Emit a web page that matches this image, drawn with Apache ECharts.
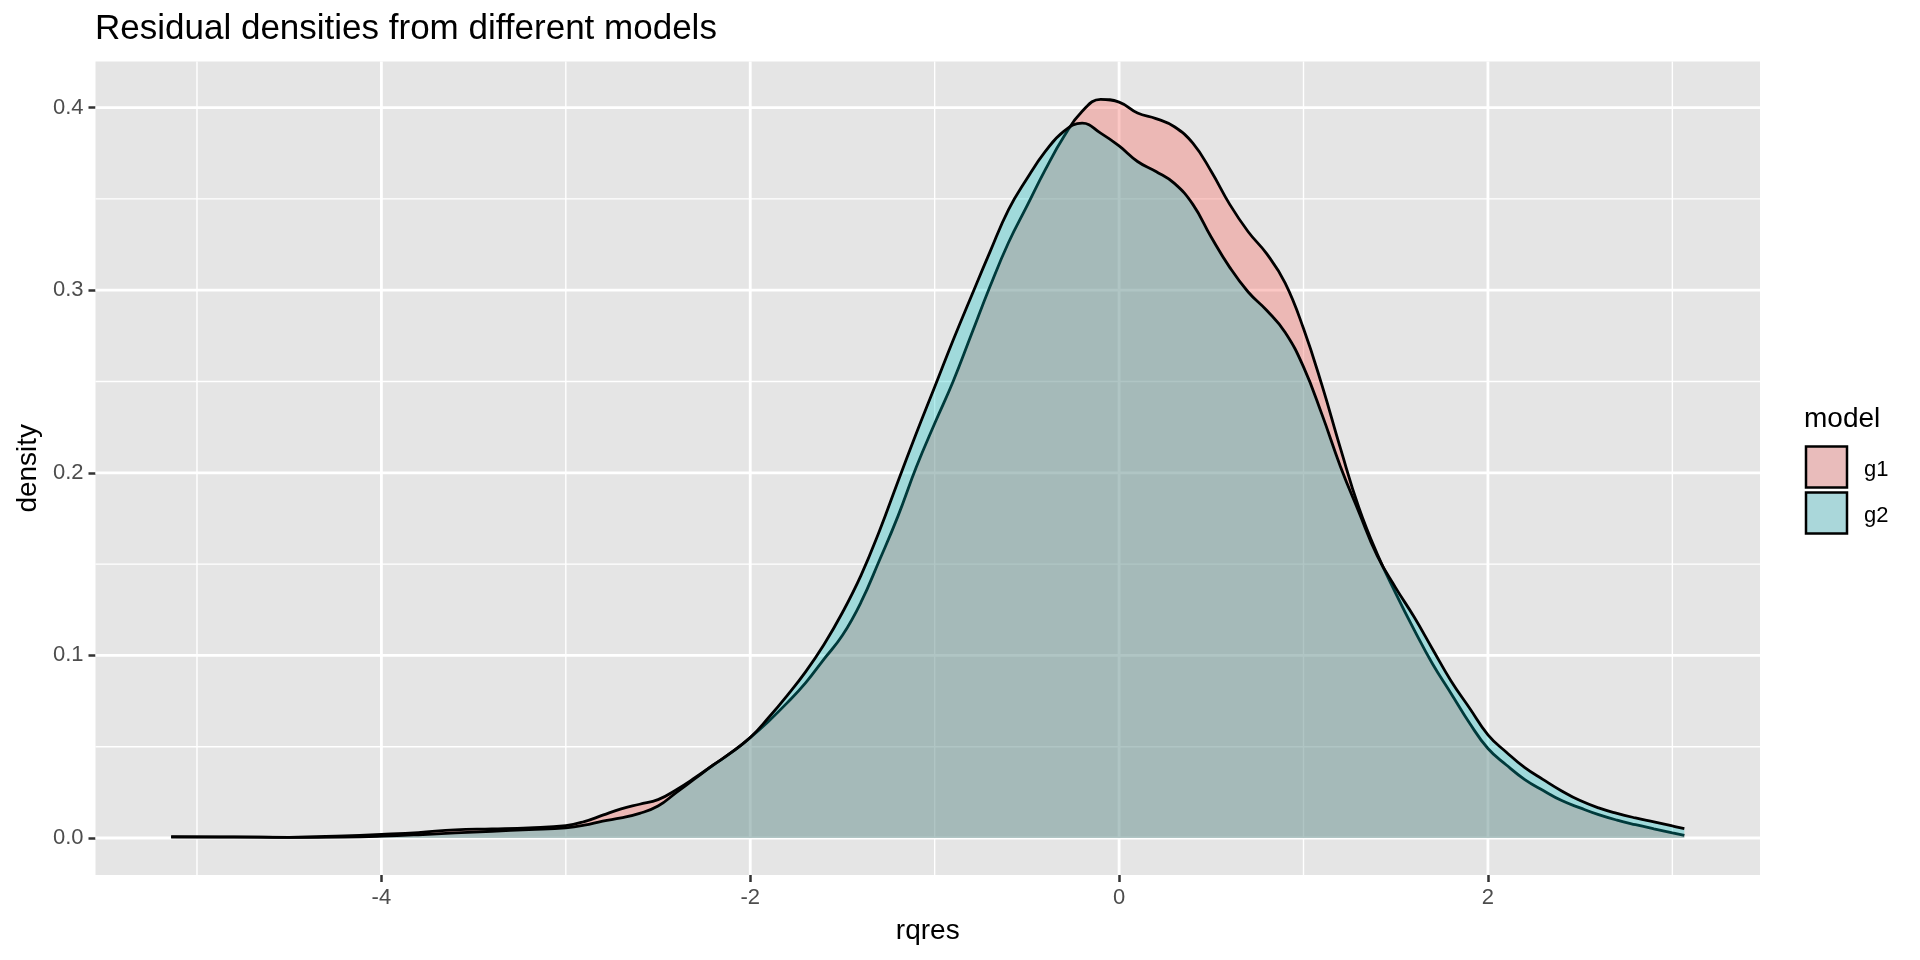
<!DOCTYPE html>
<html>
<head>
<meta charset="utf-8">
<script src="https://cdn.jsdelivr.net/npm/echarts@6/dist/echarts.min.js"></script>
<style>
html,body{margin:0;padding:0;background:#fff;}
#chart{width:1920px;height:960px;}
</style>
</head>
<body>
<div id="chart"></div>
<script>
// ---- data ----
const titleText = 'Residual densities from different models';
const xName = 'rqres';
const yName = 'density';
const legendTitle = 'model';
const seriesNames = ['g1', 'g2'];

const xGrid = [-5.14,-4.8,-4.5,-4.2,-4.0,-3.8,-3.6,-3.4,-3.2,-3.0,-2.9,-2.8,-2.7,-2.6,-2.5,-2.4,-2.3,-2.2,-2.1,-2.0,-1.9,-1.8,-1.7,-1.6,-1.5,-1.4,-1.3,-1.2,-1.1,-1.0,-0.9,-0.8,-0.7,-0.6,-0.5,-0.4,-0.3,-0.2,-0.1,0.0,0.1,0.2,0.3,0.4,0.5,0.6,0.7,0.8,0.9,1.0,1.1,1.2,1.3,1.4,1.5,1.6,1.7,1.8,1.9,2.0,2.1,2.2,2.3,2.4,2.5,2.6,2.7,2.8,2.9,3.0,3.065];

const g1Density = [0.0005,0.0005,0.0004,0.0012,0.002,0.003,0.0045,0.005,0.0056,0.0068,0.009,0.0125,0.016,0.0185,0.021,0.0265,0.033,0.040,0.047,0.055,0.064,0.074,0.085,0.098,0.111,0.129,0.152,0.176,0.203,0.227,0.250,0.276,0.302,0.326,0.346,0.366,0.384,0.398,0.4045,0.403,0.397,0.394,0.3895,0.3805,0.365,0.347,0.332,0.320,0.304,0.279,0.248,0.2135,0.181,0.1555,0.134,0.114,0.0953,0.0792,0.063,0.049,0.040,0.032,0.026,0.0205,0.0165,0.0128,0.0098,0.0073,0.005,0.0028,0.0014];

const g2Density = [0.0008,0.0006,0.0003,0.0005,0.001,0.0018,0.0028,0.0037,0.0046,0.0056,0.007,0.0093,0.011,0.0135,0.0175,0.025,0.0325,0.040,0.047,0.055,0.066,0.078,0.091,0.106,0.1235,0.1437,0.168,0.195,0.2215,0.247,0.2726,0.297,0.321,0.344,0.361,0.376,0.387,0.3915,0.386,0.379,0.3705,0.365,0.3585,0.347,0.329,0.3125,0.299,0.289,0.277,0.258,0.232,0.2035,0.1786,0.1545,0.137,0.121,0.1034,0.086,0.0712,0.0565,0.047,0.0385,0.032,0.0258,0.0205,0.0165,0.0135,0.011,0.0088,0.0066,0.0052];

const xMajorTicks = [-4, -2, 0, 2];
const xMinorTicks = [-5, -3, -1, 1, 3];
const yMajorTicks = [0, 0.1, 0.2, 0.3, 0.4];
const yMinorTicks = [0.05, 0.15, 0.25, 0.35];

// ---- scale limits (ggplot-style 5% expansion) ----
const xDataMin = xGrid[0], xDataMax = xGrid[xGrid.length - 1];
const xPad = (xDataMax - xDataMin) * 0.05;
const X_MIN = xDataMin - xPad, X_MAX = xDataMax + xPad;
const yTop = 0.405;
const Y_MIN = -yTop * 0.05, Y_MAX = yTop * 1.05;

const FONT = 'Liberation Sans, Arial, Helvetica, sans-serif';
const fills = ['rgba(248,118,109,0.4)', 'rgba(0,191,196,0.3)'];
const keyFills = ['#E9BCBB', '#AAD7DA'];
const PANEL_BG = '#E5E5E5';

const zip = (xs, ys) => xs.map((x, i) => [x, ys[i]]);

// gridline table built from tick arrays: [orientation(0=vertical,1=horizontal), value, major?]
const gridLines = []
  .concat(xMinorTicks.map(v => [0, v, 0]))
  .concat(yMinorTicks.map(v => [1, v, 0]))
  .concat(xMajorTicks.map(v => [0, v, 1]))
  .concat(yMajorTicks.map(v => [1, v, 1]));

const chart = echarts.init(document.getElementById('chart'), null, {renderer: 'canvas'});

const option = {
  backgroundColor: '#FFFFFF',
  animation: false,
  textStyle: {fontFamily: FONT},
  title: {
    text: titleText,
    left: 95, top: 12, padding: 0,
    textStyle: {fontFamily: FONT, fontSize: 35, fontWeight: 'normal', color: '#000000'}
  },
  grid: {
    left: 95.5, top: 61.5, right: 160, bottom: 85,
    show: true, backgroundColor: PANEL_BG, borderWidth: 0, containLabel: false
  },
  xAxis: {
    type: 'value', min: X_MIN, max: X_MAX, position: 'bottom',
    name: xName, nameLocation: 'middle', nameGap: 42,
    nameTextStyle: {fontFamily: FONT, fontSize: 28, color: '#000000'},
    axisLine: {show: false, onZero: false},
    splitLine: {show: false},
    axisTick: {show: true, customValues: xMajorTicks, length: 7, lineStyle: {color: '#333333', width: 2.5}},
    axisLabel: {customValues: xMajorTicks, margin: 12, fontFamily: FONT, fontSize: 22, color: '#4D4D4D',
      formatter: v => String(v)}
  },
  yAxis: {
    type: 'value', min: Y_MIN, max: Y_MAX, position: 'left',
    name: yName, nameLocation: 'middle', nameGap: 53, nameRotate: 90,
    nameTextStyle: {fontFamily: FONT, fontSize: 28, color: '#000000'},
    axisLine: {show: false, onZero: false},
    splitLine: {show: false},
    axisTick: {show: true, customValues: yMajorTicks, length: 7, lineStyle: {color: '#333333', width: 2.5}},
    axisLabel: {customValues: yMajorTicks, margin: 12, fontFamily: FONT, fontSize: 22, color: '#4D4D4D',
      formatter: v => v.toFixed(1)}
  },
  series: [
    {
      name: 'gridlines', type: 'custom', z: 1, silent: true,
      data: gridLines,
      renderItem: function (params, api) {
        const orient = api.value(0), v = api.value(1), major = api.value(2);
        let p1, p2;
        if (orient === 0) { p1 = api.coord([v, Y_MIN]); p2 = api.coord([v, Y_MAX]); }
        else { p1 = api.coord([X_MIN, v]); p2 = api.coord([X_MAX, v]); }
        return {
          type: 'line',
          shape: {x1: p1[0], y1: p1[1], x2: p2[0], y2: p2[1]},
          style: {stroke: '#FFFFFF', lineWidth: major ? 2.8 : 1.4}
        };
      }
    },
    {
      name: seriesNames[0], type: 'line', z: 2, smooth: 0.45, showSymbol: false, symbol: 'none',
      data: zip(xGrid, g1Density),
      lineStyle: {color: '#000000', width: 2.8},
      itemStyle: {color: '#000000'},
      areaStyle: {color: fills[0], opacity: 1, origin: 0}
    },
    {
      name: seriesNames[1], type: 'line', z: 3, smooth: 0.45, showSymbol: false, symbol: 'none',
      data: zip(xGrid, g2Density),
      lineStyle: {color: '#000000', width: 2.8},
      itemStyle: {color: '#000000'},
      areaStyle: {color: fills[1], opacity: 1, origin: 0}
    }
  ],
  graphic: [
    {type: 'text', left: 1804, top: 405, style: {text: legendTitle, font: '28px ' + FONT, fill: '#000000'}},
    {type: 'rect', shape: {x: 1806, y: 446.5, width: 41, height: 41}, style: {fill: keyFills[0], stroke: '#000000', lineWidth: 2.5}},
    {type: 'rect', shape: {x: 1806, y: 492.5, width: 41, height: 41}, style: {fill: keyFills[1], stroke: '#000000', lineWidth: 2.5}},
    {type: 'text', left: 1864, top: 459, style: {text: seriesNames[0], font: '22px ' + FONT, fill: '#000000'}},
    {type: 'text', left: 1864, top: 505, style: {text: seriesNames[1], font: '22px ' + FONT, fill: '#000000'}}
  ]
};
chart.setOption(option);
</script>
</body>
</html>
